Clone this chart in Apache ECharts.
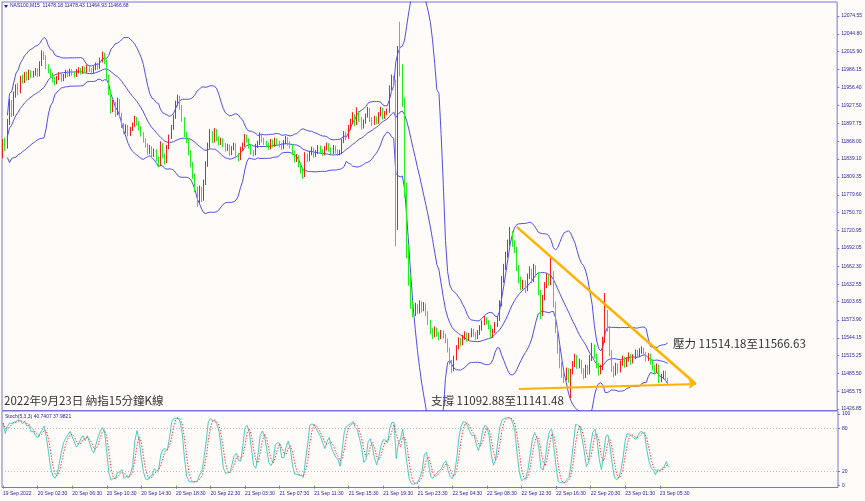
<!DOCTYPE html>
<html><head><meta charset="utf-8">
<script src="https://cdn.jsdelivr.net/npm/echarts@6/dist/echarts.min.js"></script>
<style>html,body{margin:0;padding:0;background:#fffbf8;}#c{width:865px;height:501px;}</style>
</head><body><div id="c"></div>
<script>
const symbolName = 'NAS100,M15';
const lastQuote = [11478.18, 11478.43, 11464.93, 11466.68];
const stochReadout = [40.7407, 37.9821];
const timeLabels = ['19 Sep 2022','20 Sep 02:30','20 Sep 06:30','20 Sep 10:30','20 Sep 14:30','20 Sep 18:30','20 Sep 22:30','21 Sep 03:30','21 Sep 07:30','21 Sep 11:30','21 Sep 15:30','21 Sep 19:30','21 Sep 23:30','22 Sep 04:30','22 Sep 08:30','22 Sep 12:30','22 Sep 16:30','22 Sep 20:30','23 Sep 01:30','23 Sep 05:30'];
const priceTicks = [12074.55,12044.80,12015.90,11986.15,11956.40,11927.50,11897.75,11868.00,11839.10,11809.35,11779.60,11750.70,11720.95,11692.05,11662.30,11632.55,11603.65,11573.90,11544.15,11515.25,11485.50,11455.75,11426.85];
const stochTicks = [0,20,80,100];
const stochLevels = [20,80];
const opens = [11846,11868,11860,11900,11932,11915,11945,11958,11950,11972,
11968,11978,11972,11982,11976,11980,11985,11978,11996,12012,
12008,11992,11985,11978,11970,11965,11972,11978,11970,11975,
11982,11978,11984,11980,11977,11983,11986,11982,11988,11984,
11990,11986,11982,11988,11994,11990,12002,12012,12000,11975,
11950,11920,11930,11915,11935,11912,11895,11885,11892,11880,
11888,11895,11905,11898,11890,11880,11870,11862,11850,11858,
11845,11852,11840,11830,11862,11845,11835,11858,11875,11890,
11908,11930,11940,11925,11905,11880,11870,11850,11830,11812,
11790,11770,11790,11775,11800,11830,11860,11880,11870,11885,
11872,11866,11870,11862,11855,11860,11848,11856,11862,11845,
11840,11855,11862,11875,11870,11860,11850,11848,11860,11865,
11878,11870,11866,11862,11858,11868,11862,11870,11866,11862,
11858,11866,11872,11865,11860,11850,11838,11842,11830,11820,
11812,11845,11838,11848,11855,11845,11850,11858,11852,11848,
11856,11862,11855,11850,11858,11852,11848,11850,11868,11880,
11875,11890,11900,11910,11898,11915,11905,11892,11900,11910,
11920,11905,11898,11906,11900,11912,11920,11908,11914,11918,
11955,11972,11965,11730,12005,11990,11935,11785,11690,11640,
11600,11585,11596,11588,11600,11592,11598,11585,11570,11555,
11548,11558,11550,11545,11552,11548,11540,11525,11505,11492,
11510,11528,11540,11535,11545,11550,11542,11548,11555,11550,
11545,11552,11560,11568,11575,11570,11562,11548,11555,11565,
11575,11600,11640,11660,11680,11700,11715,11700,11690,11660,
11640,11628,11635,11625,11645,11655,11640,11660,11650,11620,
11585,11610,11630,11645,11635,11650,11600,11560,11525,11500,
11485,11478,11490,11476,11488,11500,11512,11498,11505,11490,
11482,11495,11488,11510,11530,11515,11500,11488,11495,11540,
11585,11560,11520,11495,11485,11498,11490,11502,11510,11500,
11508,11515,11505,11512,11520,11515,11522,11525,11518,11510,
11515,11505,11495,11490,11498,11475,11480,11486,11478.18];
const closes = [11868,11860,11900,11932,11915,11945,11958,11950,11972,11968,
11978,11972,11982,11976,11980,11985,11978,11996,12012,12008,
11992,11985,11978,11970,11965,11972,11978,11970,11975,11982,
11978,11984,11980,11977,11983,11986,11982,11988,11984,11990,
11986,11982,11988,11994,11990,12002,12012,12000,11975,11950,
11920,11930,11915,11935,11912,11895,11885,11892,11880,11888,
11895,11905,11898,11890,11880,11870,11862,11850,11858,11845,
11852,11840,11830,11862,11845,11835,11858,11875,11890,11908,
11930,11940,11925,11905,11880,11870,11850,11830,11812,11790,
11770,11790,11775,11800,11830,11860,11880,11870,11885,11872,
11866,11870,11862,11855,11860,11848,11856,11862,11845,11840,
11855,11862,11875,11870,11860,11850,11848,11860,11865,11878,
11870,11866,11862,11858,11868,11862,11870,11866,11862,11858,
11866,11872,11865,11860,11850,11838,11842,11830,11820,11812,
11845,11838,11848,11855,11845,11850,11858,11852,11848,11856,
11862,11855,11850,11858,11852,11848,11850,11868,11880,11875,
11890,11900,11910,11898,11915,11905,11892,11900,11910,11920,
11905,11898,11906,11900,11912,11920,11908,11914,11918,11955,
11972,11965,11730,12005,11990,11935,11785,11690,11640,11600,
11585,11596,11588,11600,11592,11598,11585,11570,11555,11548,
11558,11550,11545,11552,11548,11540,11525,11505,11492,11510,
11528,11540,11535,11545,11550,11542,11548,11555,11550,11545,
11552,11560,11568,11575,11570,11562,11548,11555,11565,11575,
11600,11640,11660,11680,11700,11715,11700,11690,11660,11640,
11628,11635,11625,11645,11655,11640,11660,11650,11620,11585,
11610,11630,11645,11635,11650,11600,11560,11525,11500,11485,
11478,11490,11476,11488,11500,11512,11498,11505,11490,11482,
11495,11488,11510,11530,11515,11500,11488,11495,11540,11585,
11560,11520,11495,11485,11498,11490,11502,11510,11500,11508,
11515,11505,11512,11520,11515,11522,11525,11518,11510,11515,
11505,11495,11490,11498,11475,11480,11486,11478.18,11466.68];
const highs = [11872,11874,11905,11938,11936,11950,11962,11964,11976,11978,
11982,11983,11986,11985,11984,11989,11988,12000,12018,12016,
12010,11995,11988,11981,11974,11976,11982,11981,11979,11986,
11985,11988,11987,11983,11987,11990,11989,11992,11991,11994,
11993,11989,11992,11998,11997,12006,12016,12014,12003,11978,
11953,11936,11933,11940,11938,11915,11898,11896,11895,11892,
11899,11910,11908,11901,11893,11883,11873,11865,11862,11860,
11856,11855,11843,11868,11865,11848,11862,11879,11895,11912,
11935,11945,11943,11928,11908,11884,11873,11853,11834,11815,
11793,11795,11793,11805,11835,11866,11888,11885,11890,11888,
11876,11874,11873,11865,11864,11863,11860,11866,11865,11849,
11859,11866,11880,11879,11873,11863,11854,11864,11869,11883,
11881,11874,11869,11866,11872,11871,11874,11873,11869,11865,
11870,11877,11875,11868,11863,11853,11847,11845,11833,11824,
11850,11848,11852,11859,11858,11854,11862,11861,11855,11860,
11866,11865,11858,11862,11861,11855,11854,11872,11885,11884,
11895,11905,11916,11913,11924,11918,11908,11904,11914,11925,
11923,11908,11910,11909,11916,11925,11923,11918,11922,11960,
11978,11976,11970,12025,12065,11995,11940,11800,11698,11648,
11605,11602,11600,11606,11604,11603,11601,11588,11574,11560,
11563,11561,11554,11557,11556,11551,11543,11528,11508,11515,
11532,11545,11544,11549,11555,11553,11552,11560,11559,11553,
11557,11565,11573,11580,11578,11573,11565,11559,11570,11580,
11606,11646,11666,11686,11706,11727,11720,11705,11694,11664,
11645,11640,11639,11650,11662,11658,11666,11664,11653,11623,
11615,11636,11650,11648,11680,11654,11604,11564,11530,11504,
11490,11495,11494,11493,11506,11518,11516,11510,11508,11494,
11500,11499,11516,11536,11533,11518,11503,11500,11546,11618,
11590,11564,11524,11498,11503,11502,11507,11515,11513,11512,
11520,11518,11517,11525,11524,11527,11530,11528,11521,11519,
11518,11508,11499,11502,11500,11485,11490,11490,11478.43];
const lows = [11840,11852,11856,11895,11908,11910,11940,11944,11947,11963,
11964,11968,11969,11972,11973,11976,11974,11975,11992,12002,
11987,11980,11973,11965,11960,11962,11969,11966,11967,11972,
11974,11975,11976,11973,11974,11980,11978,11979,11980,11981,
11982,11978,11979,11985,11986,11987,11998,11995,11970,11944,
11914,11916,11908,11911,11906,11890,11880,11881,11876,11877,
11885,11892,11894,11886,11876,11866,11858,11846,11847,11840,
11842,11835,11825,11827,11840,11830,11832,11855,11872,11887,
11905,11926,11920,11900,11875,11865,11845,11825,11806,11784,
11760,11765,11768,11770,11796,11826,11856,11865,11866,11868,
11861,11862,11858,11851,11852,11844,11845,11853,11840,11835,
11837,11852,11859,11866,11856,11846,11843,11845,11857,11862,
11866,11862,11858,11854,11855,11858,11859,11862,11858,11854,
11855,11863,11861,11856,11845,11833,11834,11825,11815,11806,
11809,11834,11835,11845,11841,11842,11847,11848,11844,11845,
11853,11851,11846,11847,11848,11844,11845,11847,11865,11870,
11872,11887,11896,11893,11895,11900,11887,11889,11897,11907,
11900,11893,11895,11896,11897,11909,11904,11905,11911,11915,
11952,11958,11695,11722,11975,11925,11775,11675,11630,11592,
11578,11580,11583,11584,11586,11588,11580,11565,11550,11542,
11545,11546,11540,11542,11543,11535,11520,11500,11486,11489,
11507,11525,11530,11532,11541,11538,11539,11545,11546,11541,
11542,11549,11556,11565,11566,11558,11543,11544,11552,11562,
11572,11596,11635,11656,11676,11696,11694,11684,11654,11634,
11622,11624,11618,11621,11641,11634,11636,11645,11614,11575,
11580,11606,11626,11630,11631,11594,11552,11518,11494,11478,
11470,11474,11470,11445,11484,11496,11493,11494,11485,11476,
11478,11483,11484,11506,11510,11494,11482,11484,11491,11536,
11554,11514,11488,11479,11482,11485,11487,11498,11495,11496,
11505,11500,11502,11509,11511,11512,11518,11514,11505,11506,
11500,11490,11484,11486,11470,11471,11476,11474,11464.93];
// trend annotations: [barIndex, price]
const resistanceLine = [[238, 11727], [321, 11468]];
const supportLine = [[239, 11460], [321, 11468]];
const titleText = '2022年9月23日 納指15分鐘K線';
const supportText = '支撐 11092.88至11141.48';
const resistanceText = '壓力 11514.18至11566.63';

const SLOTS = 387, N = closes.length;
const cats = Array.from({length: SLOTS}, (_, i) => String(i));
const candle = closes.map((c, i) => [opens[i], c, lows[i], highs[i]]);

// Bollinger Bands (20, 2)
const bbUp = [], bbMid = [], bbLow = [];
for (let i = 0; i < N; i++) {
  const w = closes.slice(Math.max(0, i - 19), i + 1);
  if (w.length < 3) { bbUp.push(null); bbMid.push(null); bbLow.push(null); continue; }
  const m = w.reduce((a, b) => a + b, 0) / w.length;
  const sd = Math.sqrt(w.reduce((a, b) => a + (b - m) * (b - m), 0) / w.length);
  bbMid.push(m); bbUp.push(m + 2 * sd); bbLow.push(m - 2 * sd);
}
// Stochastic (5,3,3)
const HH = [], LL = [], K = [], D = [];
for (let i = 0; i < N; i++) {
  const s = Math.max(0, i - 4);
  HH.push(Math.max(...highs.slice(s, i + 1)));
  LL.push(Math.min(...lows.slice(s, i + 1)));
}
for (let i = 0; i < N; i++) {
  let num = 0, den = 0;
  for (let j = Math.max(0, i - 2); j <= i; j++) { num += closes[j] - LL[j]; den += HH[j] - LL[j]; }
  K.push(den > 0 ? 100 * num / den : 50);
}
for (let i = 0; i < N; i++) {
  const w = K.slice(Math.max(0, i - 2), i + 1);
  D.push(w.reduce((a, b) => a + b, 0) / w.length);
}

const axisTxt = '#1e1e9a';
const frame = '#7474e0';
const smallFont = {fontFamily: 'Liberation Sans', fontSize: 5, color: axisTxt};
const showIdx = (idx) => idx % 16 === 0 && (idx / 16) < timeLabels.length;

const chart = echarts.init(document.getElementById('c'), null, {renderer: 'canvas'});
chart.setOption({
  animation: false,
  backgroundColor: '#fffbf8',
  grid: [
    {left: 2, right: 27, top: 2, height: 408.5, show: true, borderColor: frame, borderWidth: 1, backgroundColor: 'transparent'},
    {left: 2, right: 27, top: 411, height: 76.5, show: true, borderColor: frame, borderWidth: 1, backgroundColor: 'transparent'}
  ],
  xAxis: [
    {type: 'category', gridIndex: 0, data: cats, boundaryGap: true, axisLine: {show: false}, axisTick: {show: false}, axisLabel: {show: false}, splitLine: {show: false}},
    {type: 'category', gridIndex: 1, data: cats, boundaryGap: true, axisLine: {show: false},
      axisTick: {show: true, alignWithLabel: true, interval: showIdx, length: 3, lineStyle: {color: frame}},
      axisLabel: Object.assign({show: true, interval: showIdx, align: 'left', margin: 4, formatter: (v, idx) => timeLabels[idx / 16] || ''}, smallFont),
      splitLine: {show: false}}
  ],
  yAxis: [
    {type: 'value', gridIndex: 0, position: 'right', min: 11424.4, max: 12097.6, scale: true,
      axisLine: {show: false}, splitLine: {show: false},
      axisTick: {show: true, length: 2, customValues: priceTicks, lineStyle: {color: frame}},
      axisLabel: Object.assign({show: true, margin: 4, customValues: priceTicks, formatter: v => v.toFixed(2)}, smallFont)},
    {type: 'value', gridIndex: 1, position: 'right', min: -2.5, max: 104.2,
      axisLine: {show: false}, splitLine: {show: false},
      axisTick: {show: true, length: 2, customValues: stochTicks, lineStyle: {color: frame}},
      axisLabel: Object.assign({show: true, margin: 4, customValues: stochTicks, formatter: v => String(v)}, smallFont)}
  ],
  series: [
    {type: 'line', xAxisIndex: 0, yAxisIndex: 0, data: bbUp, symbol: 'none', lineStyle: {color: '#4e4ef0', width: 1}, clip: true, z: 1},
    {type: 'line', xAxisIndex: 0, yAxisIndex: 0, data: bbMid, symbol: 'none', lineStyle: {color: '#4e4ef0', width: 1}, clip: true, z: 1},
    {type: 'line', xAxisIndex: 0, yAxisIndex: 0, data: bbLow, symbol: 'none', lineStyle: {color: '#4e4ef0', width: 1}, clip: true, z: 1},
    {type: 'candlestick', xAxisIndex: 0, yAxisIndex: 0, data: candle, barWidth: 1.2, z: 2,
      itemStyle: {color: '#ff0000', color0: '#00ee00', borderColor: '#ff1a1a', borderColor0: '#22ee22', borderWidth: 1},
      markLine: {silent: true, animation: false, symbol: ['none', 'none'],
        data: [
          [{coord: resistanceLine[0], lineStyle: {color: '#ffb300', width: 2.5, type: 'solid'}, label: {show: false}}, {coord: resistanceLine[1]}],
          [{coord: supportLine[0], lineStyle: {color: '#ffb300', width: 2, type: 'solid'}, label: {show: false}, symbol: 'none'}, {coord: supportLine[1], symbol: 'arrow', symbolSize: 7}],
          {yAxis: lastQuote[3], symbol: 'none', lineStyle: {opacity: 0},
            label: {show: true, position: 'end', distance: 1, formatter: () => lastQuote[3].toFixed(2), backgroundColor: '#1414c8', color: '#ffffff', fontFamily: 'Liberation Sans', fontSize: 5, padding: [1.5, 2, 1.5, 2]}}
        ]}
    },
    {type: 'line', xAxisIndex: 1, yAxisIndex: 1, data: K, symbol: 'none', lineStyle: {color: '#46cdc2', width: 1}, z: 3,
      markLine: {silent: true, symbol: ['none', 'none'], label: {show: false},
        lineStyle: {color: '#b8b8b8', type: [1, 2], width: 1},
        data: stochLevels.map(v => ({yAxis: v}))}},
    {type: 'line', xAxisIndex: 1, yAxisIndex: 1, data: D, symbol: 'none', lineStyle: {color: '#ff3b3b', width: 1, type: [1.5, 1.5]}, z: 4}
  ],
  graphic: [
    {type: 'polygon', shape: {points: [[4, 5], [8, 5], [6, 8]]}, style: {fill: '#1e1e9a'}},
    {type: 'text', left: 10, top: 3.5, style: {text: symbolName + '  ' + lastQuote.map(v => v.toFixed(2)).join(' '), fontFamily: 'Liberation Sans', fontSize: 5, fill: axisTxt}},
    {type: 'text', left: 5, top: 414.5, style: {text: 'Stoch(5,3,3) ' + stochReadout[0].toFixed(4) + ' ' + stochReadout[1].toFixed(4), fontFamily: 'Liberation Sans', fontSize: 5, fill: axisTxt}},
    {type: 'text', left: 4, top: 394.5, style: {text: titleText, fontFamily: 'Noto Sans CJK TC', fontSize: 11.5, fill: '#333333'}},
    {type: 'text', left: 431, top: 394.5, style: {text: supportText, fontFamily: 'Noto Sans CJK TC', fontSize: 11.5, fill: '#333333'}},
    {type: 'text', left: 673, top: 338, style: {text: resistanceText, fontFamily: 'Noto Sans CJK TC', fontSize: 11.5, fill: '#333333'}}
  ]
});
</script></body></html>
